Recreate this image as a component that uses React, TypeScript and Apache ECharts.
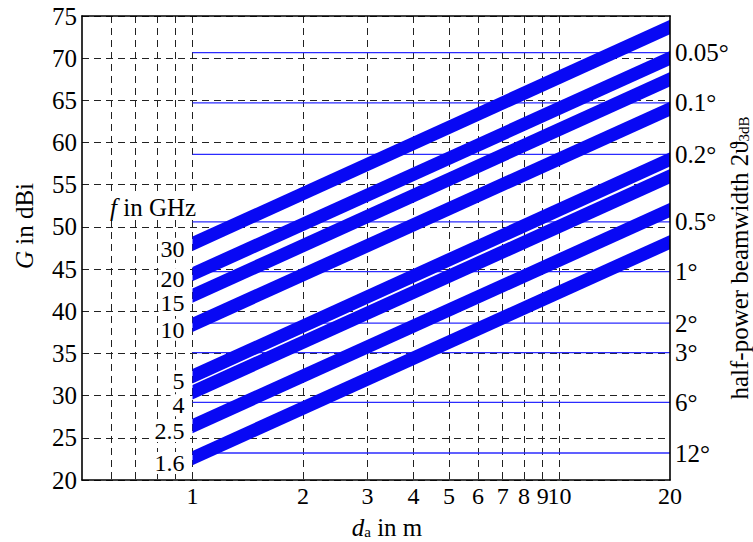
import React, { useEffect, useRef } from "react";
import * as echarts from "echarts";

// ---- data ----
const freqLabels = ["30", "20", "15", "10", "5", "4", "2.5", "1.6"]; // f in GHz
const gainAt1m = [48.0, 44.4, 41.85, 38.4, 32.3, 30.4, 26.4, 22.6]; // band centre, dBi at d = 1 m
const gainAt20m = [73.7, 70.0, 67.5, 64.0, 58.0, 56.0, 52.0, 48.2]; // band centre, dBi at d = 20 m
const bandStartD = 1;
const bandEndD = 20;
const bandHalfWidth = 0.85; // dB (efficiency range)

const beamLabels = ["0.05°", "0.1°", "0.2°", "0.5°", "1°", "2°", "3°", "6°", "12°"];
const beamGain = [70.65, 64.7, 58.6, 50.6, 44.7, 38.6, 35.1, 29.2, 23.2];

const xLabelValues = [1, 2, 3, 4, 5, 6, 7, 8, 9, 10, 20];
const xGridValues = [0.6, 0.7, 0.8, 0.9, 1, 2, 3, 4, 5, 6, 7, 8, 9, 10];
const xMinD = 0.5;
const xMaxD = 20;
const yMin = 20;
const yMax = 75;
const yStep = 5;

const FONT = '"Liberation Serif", "Times New Roman", serif';
const FS = 25;
const FS_SMALL = 24;
const lg = (v: number) => Math.log10(v);

export default function App() {
  const ref = useRef<HTMLDivElement>(null);

  useEffect(() => {
    if (!ref.current) return;
    const chart = echarts.init(ref.current, null, { renderer: "svg" });

    const bandData = freqLabels.map((_, i) => [lg(bandStartD), lg(bandEndD), gainAt1m[i], gainAt20m[i]]);
    const beamData = beamGain.map((g) => [lg(bandStartD), g, lg(bandEndD)]);

    const fmtX = (v: number) => String(Math.round(Math.pow(10, v) * 10) / 10);
    const fmtBeam = (v: number) => {
      let best = 0;
      for (let i = 1; i < beamGain.length; i++) {
        if (Math.abs(beamGain[i] - v) < Math.abs(beamGain[best] - v)) best = i;
      }
      return beamLabels[best];
    };

    const dashed = { color: "#222", width: 1, type: [7, 5] as any };

    chart.setOption({
      animation: false,
      backgroundColor: "#fff",
      grid: { left: 82, right: 83, top: 16, bottom: 62, containLabel: false, outerBoundsMode: "none" },
      xAxis: [
        {
          type: "value",
          min: lg(xMinD),
          max: lg(xMaxD),
          axisLine: { show: true, onZero: false, lineStyle: { color: "#000", width: 1.6 } },
          axisTick: { show: false, customValues: xGridValues.map(lg) },
          axisLabel: {
            customValues: xLabelValues.map(lg),
            formatter: fmtX,
            color: "#000",
            fontFamily: FONT,
            fontSize: FS_SMALL,
            margin: 4,
            hideOverlap: false,
          },
          splitLine: { show: true, lineStyle: dashed },
        },
        {
          type: "value",
          position: "top",
          min: lg(xMinD),
          max: lg(xMaxD),
          z: 6,
          axisLine: { show: true, onZero: false, lineStyle: { color: "#000", width: 1.6 } },
          axisTick: { show: false },
          axisLabel: { show: false },
          splitLine: { show: false },
        },
      ],
      yAxis: [
        {
          type: "value",
          min: yMin,
          max: yMax,
          interval: yStep,
          axisLine: { show: true, onZero: false, lineStyle: { color: "#000", width: 1.6 } },
          axisTick: { show: false },
          axisLabel: { color: "#000", fontFamily: FONT, fontSize: FS, margin: 5, hideOverlap: false },
          splitLine: { show: true, lineStyle: dashed },
        },
        {
          type: "value",
          position: "right",
          min: yMin,
          max: yMax,
          z: 6,
          axisLine: { show: true, onZero: false, lineStyle: { color: "#000", width: 1.6 } },
          axisTick: { show: false },
          axisLabel: {
            customValues: beamGain,
            formatter: fmtBeam,
            color: "#000",
            fontFamily: FONT,
            fontSize: FS,
            margin: 5,
            hideOverlap: false,
          },
          splitLine: { show: false },
        },
      ],
      series: [
        {
          type: "custom",
          name: "beamwidth",
          z: 3,
          data: beamData,
          encode: { x: [0, 2], y: 1 },
          renderItem: (_params: any, api: any) => {
            const p1 = api.coord([api.value(0), api.value(1)]);
            const p2 = api.coord([api.value(2), api.value(1)]);
            return {
              type: "line",
              shape: { x1: p1[0], y1: p1[1], x2: p2[0], y2: p2[1] },
              style: { stroke: "#2b2bff", lineWidth: 1.3 },
            };
          },
        },
        {
          type: "custom",
          name: "gain",
          z: 4,
          data: bandData,
          encode: { x: [0, 1], y: [2, 3] },
          renderItem: (params: any, api: any) => {
            const i = params.dataIndex;
            const x1 = api.value(0);
            const x2 = api.value(1);
            const g1 = api.value(2);
            const g2 = api.value(3);
            const a = api.coord([x1, g1 + bandHalfWidth]);
            const b = api.coord([x2, g2 + bandHalfWidth]);
            const c = api.coord([x2, g2 - bandHalfWidth]);
            const d = api.coord([x1, g1 - bandHalfWidth]);
            // label y with simple collision avoidance (labels stacked top to bottom)
            let prev = -Infinity;
            let ly = 0;
            for (let j = 0; j <= i; j++) {
              let y = api.coord([lg(bandStartD), gainAt1m[j]])[1] + 5;
              if (y < prev + 24) y = prev + 24;
              prev = y;
              ly = y;
            }
            const x0 = api.coord([x1, g1])[0];
            return {
              type: "group",
              children: [
                {
                  type: "polygon",
                  shape: { points: [a, b, c, d] },
                  style: { fill: "#0808f4" },
                },
                {
                  type: "text",
                  x: x0 - 7,
                  y: ly,
                  style: {
                    text: freqLabels[i],
                    fontFamily: FONT,
                    fontSize: FS_SMALL,
                    lineHeight: 22,
                    fill: "#000",
                    align: "right",
                    verticalAlign: "middle",
                    backgroundColor: "#fff",
                    padding: [0, 1, 0, 2],
                  },
                },
              ],
            };
          },
        },
      ],
      graphic: [
        {
          type: "text",
          x: 24,
          y: 226,
          rotation: Math.PI / 2,
          z: 10,
          style: {
            text: "{i|G} in dBi",
            fontFamily: FONT,
            fontSize: FS,
            fill: "#000",
            align: "center",
            verticalAlign: "middle",
            rich: {
              i: { fontFamily: FONT, fontSize: FS, fontStyle: "italic", fill: "#000" },
            },
          },
        },
        {
          type: "text",
          x: 739,
          y: 258,
          rotation: Math.PI / 2,
          z: 10,
          style: {
            text: "half-power beamwidth 2ϑ{s|3dB}",
            fontFamily: FONT,
            fontSize: FS,
            fill: "#000",
            align: "center",
            verticalAlign: "middle",
            rich: {
              s: { fontFamily: FONT, fontSize: 15, fill: "#000", lineHeight: 8, verticalAlign: "bottom" },
            },
          },
        },
        {
          type: "text",
          x: 387,
          y: 527,
          z: 10,
          style: {
            text: "{i|d}{s|a} in m",
            fontFamily: FONT,
            fontSize: FS,
            fill: "#000",
            align: "center",
            verticalAlign: "middle",
            rich: {
              i: { fontFamily: FONT, fontSize: FS, fontStyle: "italic", fill: "#000" },
              s: { fontFamily: FONT, fontSize: 15, fill: "#000", lineHeight: 8, verticalAlign: "bottom" },
            },
          },
        },
        {
          type: "text",
          x: 108,
          y: 207,
          z: 10,
          style: {
            text: "{i|f} in GHz",
            fontFamily: FONT,
            fontSize: FS,
            fill: "#000",
            align: "left",
            verticalAlign: "middle",
            backgroundColor: "#fff",
            padding: [0, 2],
            rich: {
              i: { fontFamily: FONT, fontSize: FS, fontStyle: "italic", fill: "#000" },
            },
          },
        },
      ],
    });

    return () => chart.dispose();
  }, []);

  return (
    <div
      ref={ref}
      style={{ position: "fixed", left: 0, top: 0, width: 753, height: 542, background: "#fff" }}
    />
  );
}
